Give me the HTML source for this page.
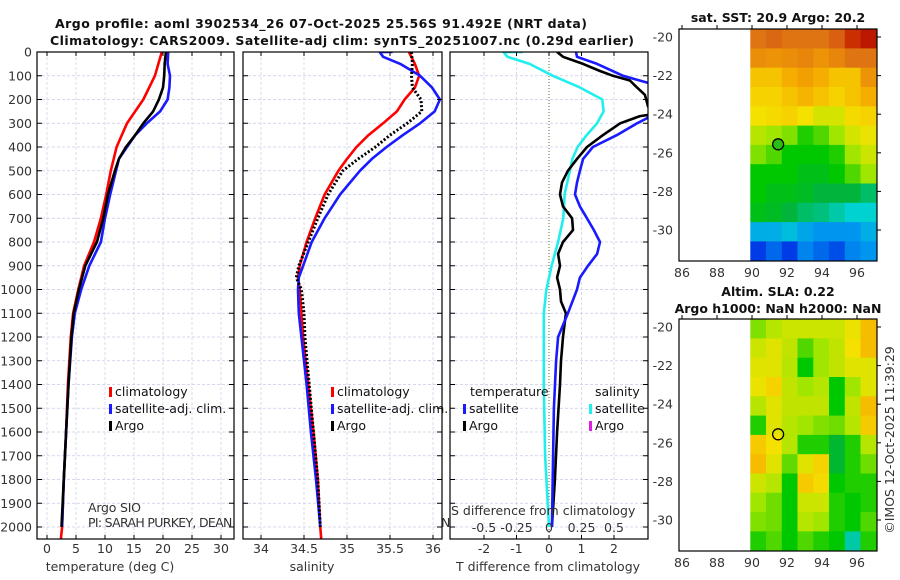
<!DOCTYPE html>
<html><head><meta charset="utf-8"><style>
html,body{margin:0;padding:0;background:#fff;}
svg{display:block;font-family:"DejaVu Sans","Liberation Sans",sans-serif;}
.tk{font-size:12.5px;fill:#333;}
.ttl{font-size:12.5px;font-weight:bold;fill:#111;}
.lg{font-size:12.5px;fill:#111;}
</style></head><body>
<svg id="chart" width="900" height="580" viewBox="0 0 900 580">
<defs>
<clipPath id="c1"><rect x="37" y="52" width="197" height="487"/></clipPath>
<clipPath id="c2"><rect x="243" y="52" width="199" height="487"/></clipPath>
<clipPath id="c3"><rect x="450" y="52" width="198" height="487"/></clipPath>
</defs>
<g id="root"></g>
<text class="ttl" x="321" y="28" text-anchor="middle" textLength="532">Argo profile: aoml 3902534_26 07-Oct-2025 25.56S 91.492E (NRT data)</text>
<text class="ttl" x="342" y="45" text-anchor="middle" textLength="584">Climatology: CARS2009. Satellite-adj clim: synTS_20251007.nc (0.29d earlier)</text>
<text class="ttl" x="778" y="22" text-anchor="middle">sat. SST: 20.9 Argo: 20.2</text>
<text class="ttl" x="778" y="296" text-anchor="middle">Altim. SLA: 0.22</text>
<text class="ttl" x="778" y="313" text-anchor="middle">Argo h1000: NaN h2000: NaN</text>
<text class="tk" transform="translate(894,440) rotate(-90)" text-anchor="middle" font-size="12.5">©IMOS 12-Oct-2025 11:39:29</text>
</svg>
<script>
// ---- data ----
const depthTicks=[0,100,200,300,400,500,600,700,800,900,1000,1100,1200,1300,1400,1500,1600,1700,1800,1900,2000];
const tempTicks=[0,5,10,15,20,25,30];
const salTicks=[34,34.5,35,35.5,36];
const salTickLabels=["34","34.5","35","35.5","36"];
const dTTicks=[-2,-1,0,1,2];
const dSTicks=[-0.5,-0.25,0,0.25,0.5];
const dSTickLabels=["-0.5","-0.25","0","0.25","0.5"];

const tClimD=[0,100,200,300,400,500,600,700,800,900,1000,1100,1200,1400,1600,1800,2000,2050];
const tClimV=[19.8,18.6,16.6,13.8,12,11,10.2,9.3,8.1,6.4,5.4,4.5,4.1,3.6,3.3,2.9,2.6,2.4];
const tArgoD=[0,50,100,150,200,250,300,350,400,450,500,600,700,800,900,1000,1100,1200,1400,1600,1800,2000];
const tArgoV=[20.5,20.3,20.2,20,19.3,18.3,16.6,15.2,13.6,12.4,11.7,10.5,9.7,8.6,6.6,5.5,4.6,4.2,3.7,3.3,2.9,2.5];
const tSatD=[0,50,100,150,200,250,300,350,400,450,500,600,700,800,900,1000,1100,1200,1400,1600,1800,2000];
const tSatV=[20.9,20.8,21.2,21.1,20.8,19.5,17.2,15.2,13.8,12.4,11.9,10.9,10,9.3,7.3,5.9,4.8,4.3,3.7,3.3,2.9,2.6];

const sClimD=[0,50,100,150,200,250,300,350,400,450,500,600,700,800,900,950,1000,1100,1200,1400,1600,1800,2000,2050];
const sClimV=[35.72,35.79,35.84,35.79,35.67,35.58,35.42,35.25,35.11,35.0,34.9,34.74,34.63,34.53,34.45,34.43,34.45,34.47,34.49,34.55,34.61,34.66,34.69,34.70];
const sArgoD=[0,50,100,150,200,250,300,350,400,450,500,600,700,800,900,950,1000,1100,1200,1400,1600,1800,2000];
const sArgoV=[35.75,35.76,35.75,35.76,35.86,35.87,35.70,35.5,35.33,35.13,34.95,34.78,34.66,34.55,34.44,34.41,34.47,34.5,34.51,34.56,34.61,34.66,34.69];
const sSatD=[0,0,20,50,100,150,200,250,300,350,400,450,500,600,700,800,900,950,1000,1100,1200,1400,1600,1800,2000];
const sSatV=[35.53,35.38,35.42,35.62,35.85,35.99,36.08,36.02,35.85,35.65,35.46,35.29,35.15,34.92,34.74,34.59,34.49,34.44,34.43,34.44,34.47,34.53,34.58,34.64,34.69];

const dTSatD=[0,20,50,100,130,200,280,300,350,400,450,500,550,600,650,700,750,800,850,900,950,1000,1100,1200,1300,1500,2000];
const dTSatV=[0.83,0.86,1.48,2.28,3.05,3.6,3.0,2.71,2.09,1.35,1.05,0.95,0.86,0.8,0.95,1.17,1.38,1.57,1.48,1.2,0.95,0.86,0.58,0.28,0.22,0.15,0.09];
const dTArgoD=[0,20,50,80,100,120,150,180,230,260,270,300,350,400,450,500,550,600,650,700,750,800,850,900,950,1000,1050,1100,1200,1300,1400,1600,1800,2000];
const dTArgoV=[0.25,0.43,1.05,1.57,1.97,2.49,2.71,2.95,3.05,3.3,2.8,2.19,1.66,1.17,0.86,0.58,0.4,0.34,0.43,0.71,0.74,0.43,0.28,0.34,0.25,0.34,0.37,0.52,0.43,0.37,0.34,0.25,0.18,0.09];
const dSSatD=[0,0,20,50,100,150,200,250,300,350,400,450,500,600,700,800,900,1000,1100,1400,1700,2000];
const dSSatV=[-0.2,-0.35,-0.32,-0.15,0.03,0.24,0.41,0.42,0.37,0.29,0.22,0.18,0.16,0.12,0.11,0.07,0.02,-0.02,-0.04,-0.04,-0.03,0.0];

const lonTicks=[86,88,90,92,94,96];
const latTicks=[-20,-22,-24,-26,-28,-30];
const sstGrid=[
[0.84,0.86,0.84,0.84,0.84,0.87,0.94,0.97],
[0.8,0.79,0.8,0.81,0.79,0.81,0.84,0.84],
[0.72,0.72,0.75,0.77,0.75,0.72,0.72,0.79],
[0.7,0.7,0.72,0.74,0.72,0.7,0.72,0.75],
[0.68,0.69,0.7,0.68,0.65,0.65,0.69,0.7],
[0.62,0.6,0.58,0.52,0.55,0.6,0.65,0.67],
[0.58,0.55,0.5,0.5,0.5,0.52,0.6,0.64],
[0.5,0.5,0.5,0.48,0.48,0.5,0.55,0.6],
[0.5,0.48,0.48,0.47,0.45,0.45,0.45,0.43],
[0.48,0.47,0.45,0.43,0.42,0.4,0.38,0.38],
[0.33,0.33,0.35,0.32,0.3,0.3,0.3,0.33],
[0.2,0.25,0.2,0.28,0.25,0.22,0.28,0.3]];
const slaGrid=[
[0.58,0.62,0.64,0.64,0.64,0.64,0.67,0.73],
[0.64,0.66,0.63,0.55,0.6,0.63,0.68,0.73],
[0.66,0.66,0.62,0.5,0.6,0.63,0.66,0.66],
[0.67,0.7,0.63,0.6,0.62,0.5,0.6,0.66],
[0.62,0.66,0.63,0.63,0.63,0.5,0.63,0.73],
[0.52,0.66,0.62,0.6,0.58,0.57,0.62,0.71],
[0.71,0.68,0.62,0.52,0.52,0.46,0.52,0.62],
[0.73,0.66,0.56,0.66,0.7,0.46,0.52,0.57],
[0.64,0.62,0.5,0.71,0.69,0.5,0.52,0.52],
[0.6,0.57,0.5,0.64,0.64,0.52,0.5,0.52],
[0.58,0.57,0.5,0.62,0.6,0.52,0.5,0.55],
[0.52,0.55,0.5,0.55,0.52,0.5,0.4,0.52]];
const argoLon=91.492, argoLat=-25.56;

// ---- helpers ----
const NS="http://www.w3.org/2000/svg";
const root=document.getElementById('root');
function mk(tag,attrs,parent){const e=document.createElementNS(NS,tag);for(const k in attrs)e.setAttribute(k,attrs[k]);(parent||root).appendChild(e);return e;}
const PT=52,PB=539;
const yD=d=>PT+0.2375*d;
const xT=t=>47+5.8*t;
const xS=s=>261+86*(s-34);
const xDT=v=>549+32.5*v;
const xDS=v=>549+130*v;
const panels=[{l:37,r:234},{l:243,r:442},{l:450,r:648}];
const GC='#c8cce8';

panels.forEach((p,i)=>{
  depthTicks.forEach(d=>{if(d>0){const g=mk('line',{x1:p.l,x2:p.r,y1:yD(d),y2:yD(d),stroke:GC,'stroke-width':0.7,'stroke-dasharray':'3 2'});
  }});
});
tempTicks.forEach(t=>{const g=mk('line',{x1:xT(t),x2:xT(t),y1:PT,y2:PB,stroke:GC,'stroke-width':0.7,'stroke-dasharray':'3 2'});});
salTicks.forEach(t=>{const g=mk('line',{x1:xS(t),x2:xS(t),y1:PT,y2:PB,stroke:GC,'stroke-width':0.7,'stroke-dasharray':'3 2'});});
dTTicks.forEach(t=>{if(t!==0){const g=mk('line',{x1:xDT(t),x2:xDT(t),y1:PT,y2:PB,stroke:GC,'stroke-width':0.7,'stroke-dasharray':'3 2'});}});
{const z=mk('line',{x1:xDT(0),x2:xDT(0),y1:PT,y2:PB,stroke:'#556b2f','stroke-width':1,'stroke-dasharray':'1 2'});}

function line(D,V,xf,color,clip,name,dash){
  const pts=D.map((d,i)=>xf(V[i]).toFixed(1)+','+yD(d).toFixed(1)).join(' ');
  const a={points:pts,fill:'none',stroke:color,'stroke-width':dash?3:2.6,'stroke-linejoin':'round','clip-path':'url(#'+clip+')'};
  if(dash)a['stroke-dasharray']=dash;
  const e=mk('polyline',a);
  
  
}
line(tClimD,tClimV,xT,'#f00','c1','temp-climatology-line');
line(tSatD,tSatV,xT,'#1a1aff','c1','temp-satellite-line');
line(tArgoD,tArgoV,xT,'#000','c1','temp-argo-line');
line(sClimD,sClimV,xS,'#f00','c2','sal-climatology-line');
line(sSatD,sSatV,xS,'#1a1aff','c2','sal-satellite-line');
line(sArgoD,sArgoV,xS,'#000','c2','sal-argo-line','2 2');
line(dSSatD,dSSatV,xDS,'#22eeee','c3','sdiff-satellite-line');
line(dTArgoD,dTArgoV,xDT,'#000','c3','tdiff-argo-line');
line(dTSatD,dTSatV,xDT,'#1a1aff','c3','tdiff-satellite-line');

panels.forEach((p,i)=>{
  const f=mk('rect',{x:p.l,y:PT,width:p.r-p.l,height:PB-PT,fill:'none',stroke:'#000','stroke-width':1.2});
  
  depthTicks.forEach(d=>{mk('line',{x1:p.l,x2:p.l+5,y1:yD(d),y2:yD(d),stroke:'#000'});mk('line',{x1:p.r-5,x2:p.r,y1:yD(d),y2:yD(d),stroke:'#000'});});
});
depthTicks.forEach(d=>{const t=mk('text',{x:32,y:yD(d)+4.5,'text-anchor':'end',class:'tk'});t.textContent=d;});
function xlabels(ticks,labels,xf,y,name){ticks.forEach((v,i)=>{mk('line',{x1:xf(v),x2:xf(v),y1:PB,y2:PB-4,stroke:'#000'});mk('line',{x1:xf(v),x2:xf(v),y1:PT,y2:PT+4,stroke:'#000'});const t=mk('text',{x:xf(v),y:y,'text-anchor':'middle',class:'tk'});t.textContent=labels[i];});}
xlabels(tempTicks,tempTicks.map(String),xT,553,'temp-tick-label');
xlabels(salTicks,salTickLabels,xS,553,'sal-tick-label');
xlabels(dTTicks,dTTicks.map(String),xDT,553,'tdiff-tick-label');
dSTicks.forEach((v,i)=>{const t=mk('text',{x:xDS(v),y:532,'text-anchor':'middle',class:'tk','font-size':13});t.textContent=dSTickLabels[i];});
function txt(x,y,s,name,extra){const t=mk('text',Object.assign({x:x,y:y},extra||{}));t.textContent=s;return t;}
txt(110,571,'temperature (deg C)','x-axis-title-temp',{'text-anchor':'middle',class:'tk','font-size':13});
txt(312,571,'salinity','x-axis-title-sal',{'text-anchor':'middle',class:'tk','font-size':13});
txt(548,571,'T difference from climatology','x-axis-title-tdiff',{'text-anchor':'middle',class:'tk','font-size':13});
txt(451,515,'S difference from climatology','sdiff-axis-title',{class:'tk','font-size':13,'clip-path':'url(#c3)'});
txt(88,512,'Argo SIO','institution-label',{class:'tk','font-size':11,'textLength':53});
txt(88,527,'PI: SARAH PURKEY, DEAN ROEMMICH','pi-label',{class:'tk','font-size':11,'textLength':212,'clip-path':'url(#c1)'});
txt(441,527,'N','pi-label-overflow',{class:'tk','font-size':11});

function leg(x,y,color,label,name){const m=mk('rect',{x:x,y:y-9,width:3,height:10,fill:color});txt(x+6,y,label,name,{class:'lg'});}
leg(109,396,'#f00','climatology','legend-climatology');
leg(109,413,'#1a1aff','satellite-adj. clim.','legend-satellite');
leg(109,430,'#000','Argo','legend-argo');
leg(331,396,'#f00','climatology','legend2-climatology');
leg(331,413,'#1a1aff','satellite-adj. clim.','legend2-satellite');
leg(331,430,'#000','Argo','legend2-argo');
txt(470,396,'temperature','legend3-temperature-header',{class:'lg'});
txt(595,396,'salinity','legend3-salinity-header',{class:'lg'});
leg(463,413,'#1a1aff','satellite','legend3-t-satellite');
leg(463,430,'#000','Argo','legend3-t-argo');
leg(589,413,'#22eeee','satellite','legend3-s-satellite');
leg(589,430,'#e020e0','Argo','legend3-s-argo');

const stops=[[0,0,0,140],[0.2,0,60,230],[0.3,0,150,240],[0.38,0,210,210],[0.45,0,180,60],[0.5,0,200,0],[0.6,160,230,0],[0.68,245,225,0],[0.76,245,165,0],[0.85,220,110,20],[0.95,200,40,0],[1,170,0,0]];
function cmap(v){for(let i=1;i<stops.length;i++){if(v<=stops[i][0]){const a=stops[i-1],b=stops[i],f=(v-a[0])/(b[0]-a[0]);return 'rgb('+[1,2,3].map(k=>Math.round(a[k]+f*(b[k]-a[k]))).join(',')+')';}}return 'rgb(170,0,0)';}
function drawMap(top,grid,name,circleFill){
  const L=679,R=877,T=top,B=top+232;
  const xL=lon=>752+17.5*(lon-90);
  const yL=lat=>top+8+19.3*(-20-lat);
  mk('rect',{x:L,y:T,width:R-L,height:B-T,fill:'#fff'});
  const lon0=90-0.1,dLon=0.9,lat0=-19.59,dLat=1;
  grid.forEach((row,r)=>row.forEach((v,c)=>{
    const x1=xL(lon0+c*dLon),x2=Math.min(xL(lon0+(c+1)*dLon),R);
    const y1=yL(lat0-r*dLat),y2=Math.min(yL(lat0-(r+1)*dLat),B);
    const cell=mk('rect',{x:x1.toFixed(1),y:y1.toFixed(1),width:(x2-x1+0.6).toFixed(1),height:(y2-y1+0.6).toFixed(1),fill:cmap(v)});
    
    
  }));
  const fr=mk('rect',{x:L,y:T,width:R-L,height:B-T,fill:'none',stroke:'#000','stroke-width':1.2});
  
  lonTicks.forEach(l=>{mk('line',{x1:xL(l),x2:xL(l),y1:T,y2:T-4,stroke:'#000'});txt(xL(l),B+16,String(l),name+'-lon-label',{'text-anchor':'middle',class:'tk'});});
  latTicks.forEach(l=>{mk('line',{x1:R,x2:R+4,y1:yL(l),y2:yL(l),stroke:'#000'});txt(673,yL(l)+4.5,String(l),name+'-lat-label',{'text-anchor':'end',class:'tk'});});
  const c=mk('circle',{cx:xL(argoLon),cy:yL(argoLat),r:5.5,fill:circleFill,stroke:'#000','stroke-width':1.3});
  
}
drawMap(29,sstGrid,'sst-map','rgb(40,190,20)');
drawMap(319,slaGrid,'sla-map','none');
</script>
</body></html>
